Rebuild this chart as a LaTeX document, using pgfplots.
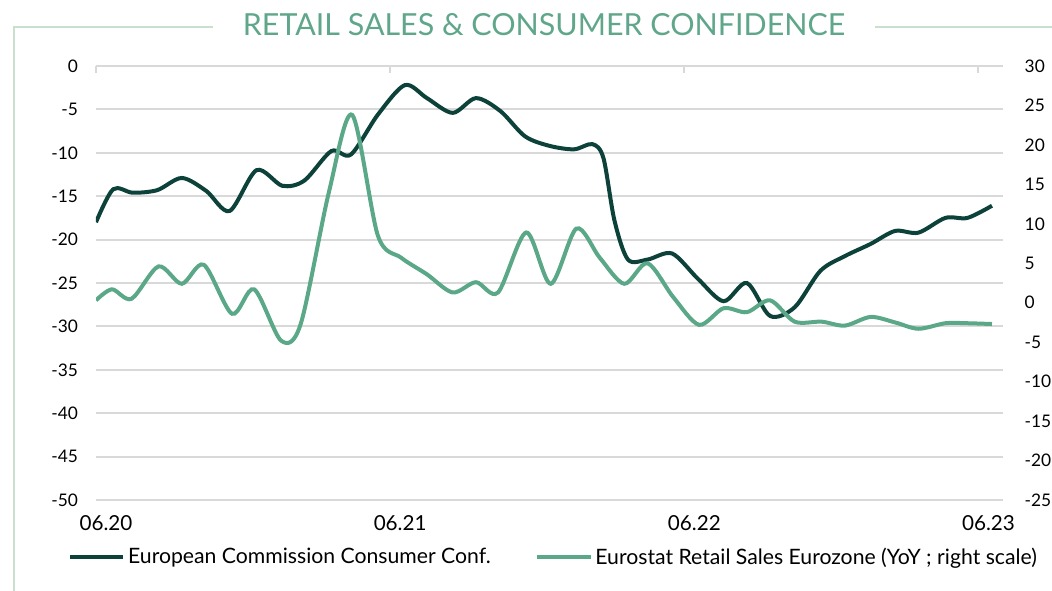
\documentclass[border=0pt]{standalone}
\usepackage{fontspec}
\setmainfont{Lato}
\usepackage{pgfplots}
\usepackage{pgfplotstable}
\pgfplotsset{compat=1.18}
\definecolor{darkc}{RGB}{12,66,58}
\definecolor{greenc}{RGB}{90,168,136}
\definecolor{titlec}{RGB}{95,166,138}
\definecolor{framec}{RGB}{200,224,205}
\definecolor{gridc}{RGB}{217,217,217}

\pgfplotstableread{
x y
0 -18.0
0.7 -14.2
1.5 -14.6
2.5 -14.3
3.5 -12.9
4.5 -14.4
5.45 -16.7
6.55 -12.0
7.6 -13.8
8.5 -13.2
9.6 -9.8
10.4 -10.2
11.5 -5.6
12.6 -2.2
13.5 -3.7
14.55 -5.4
15.5 -3.7
16.5 -5.2
17.5 -8.1
18.5 -9.2
19.5 -9.6
20.25 -9.0
20.7 -10.6
21.15 -17.8
21.7 -22.3
22.5 -22.3
23.5 -21.6
24.55 -24.5
25.6 -27.1
26.55 -25.0
27.5 -28.8
28.5 -27.8
29.55 -23.6
30.55 -21.9
31.6 -20.5
32.6 -19.0
33.55 -19.2
34.65 -17.5
35.55 -17.5
36.55 -16.1
}\conf

\pgfplotstableread{
x y
0 0.3
0.65 1.7
1.45 0.5
2.55 4.6
3.5 2.4
4.4 4.8
5.55 -1.4
6.45 1.7
7.55 -4.8
8.35 -2.7
9.5 14.0
10.45 23.8
11.5 8.5
12.45 5.7
13.5 3.6
14.55 1.3
15.5 2.6
16.4 1.3
17.55 8.9
18.55 2.4
19.6 9.4
20.55 5.7
21.55 2.4
22.5 5.0
23.55 0.7
24.6 -2.8
25.6 -0.7
26.55 -1.2
27.5 0.3
28.5 -2.4
29.6 -2.4
30.55 -2.9
31.6 -1.8
32.6 -2.5
33.55 -3.3
34.65 -2.6
35.55 -2.6
36.55 -2.7
}\retail

\begin{document}
\begin{tikzpicture}
\path[use as bounding box] (-72pt,-68.25pt) rectangle (717pt,375pt);
\clip (-72pt,-68.25pt) rectangle (717pt,375pt);
\draw[framec, line width=1.5pt] (87.75pt,354.75pt) -- (-61.5pt,354.75pt) -- (-61.5pt,-70pt);
\draw[framec, line width=1.5pt] (584.25pt,354.75pt) -- (720pt,354.75pt);
\node[text=titlec, font=\fontsize{22.8}{26}\selectfont] at (336pt,356.25pt) {RETAIL SALES \& CONSUMER CONFIDENCE};

\begin{axis}[
  width=680.25pt, height=325.5pt, scale only axis,
  at={(0pt,0pt)}, anchor=south west,
  xmin=0, xmax=37, ymin=-50, ymax=0,
  axis line style={draw=none},
  ymajorgrids, grid style={gridc, line width=1.5pt},
  ytick={-50,-45,-40,-35,-30,-25,-20,-15,-10,-5,0},
  yticklabels={-50,-45,-40,-35,-30,-25,-20,-15,-10,-5,0},
  ytick style={draw=none},
  yticklabel style={xshift=-10pt, font=\fontsize{13}{15}\selectfont, text=black},
  xtick={0,12,24,36},
  xticklabels={06.20,06.21,06.22,06.23},
  xtick pos=right, xticklabel pos=left,
  xtick align=inside,
  major tick length=5.25pt,
  x tick style={gridc, line width=1.5pt},
  xticklabel style={xshift=7.5pt, yshift=-8pt, font=\fontsize{15.5}{18}\selectfont, text=black},
  legend style={at={(-0.031,-0.131)}, anchor=west, draw=none, fill=none,
    inner sep=0pt, legend columns=2, font=\fontsize{15.9}{18}\selectfont,
    /tikz/every even column/.append style={column sep=31.5pt}},
  legend image code/.code={\draw[#1] (0pt,0pt) -- (40pt,0pt);},
]
\addplot[darkc, line width=3pt, smooth, tension=0.5] table {\conf};
\addlegendentry{European Commission Consumer Conf.}
\addlegendimage{greenc, line width=3pt}
\addlegendentry{Eurostat Retail Sales Eurozone (YoY ; right scale)}
\end{axis}

\begin{axis}[
  width=680.25pt, height=325.5pt, scale only axis,
  at={(0pt,0pt)}, anchor=south west,
  xmin=0, xmax=37, ymin=-25, ymax=30,
  axis lines=none,
]
\addplot[greenc, line width=3pt, smooth, tension=0.5] table {\retail};
\end{axis}

\begin{axis}[
  width=680.25pt, height=325.5pt, scale only axis,
  at={(0pt,0pt)}, anchor=south west,
  xmin=0, xmax=37, ymin=-25, ymax=30,
  axis y line*=right, axis x line=none,
  axis line style={draw=none},
  ytick={-25,-20,-15,-10,-5,0,5,10,15,20,25,30},
  yticklabels={-25,-20,-15,-10,-5,0,5,10,15,20,25,30},
  ytick style={draw=none},
  yticklabel style={xshift=12.75pt, anchor=west, font=\fontsize{13}{15}\selectfont, text=black},
]
\end{axis}
\end{tikzpicture}
\end{document}
